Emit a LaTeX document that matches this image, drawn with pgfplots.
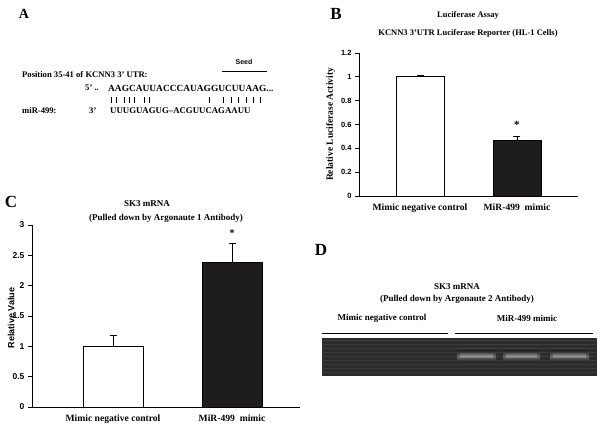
\documentclass[border=0pt]{standalone}
\usepackage{fontspec}
\setmainfont{Liberation Serif}
\setsansfont{Liberation Sans}
\usepackage{pgfplots}
\pgfplotsset{compat=1.18}

\newcommand{\fs}[1]{\fontsize{#1}{#1}\selectfont}
\definecolor{barblack}{HTML}{1E1C1D}
\definecolor{gelbg}{HTML}{2C2C2C}

\pgfplotsset{panel/.style={
  scale only axis, anchor=south west,
  axis x line*=bottom, axis y line*=left,
  axis line style={black,line width=0.8pt},
  ymin=0, xtick={1,2},
  xticklabels={Mimic negative control,MiR-499\ \ mimic},
  x tick label style={font=\rmfamily\bfseries\fs{9.6}},
  major x tick style={draw=none},
  tick align=outside, major tick length=4pt,
  major y tick style={black,line width=0.8pt},
  /pgf/number format/assume math mode=true,
  clip=false},
  ebar/.style={error bars/.cd,y dir=plus,y explicit,
    error bar style={line width=0.9pt,black},
    error mark options={mark size=3.5pt,line width=0.9pt,black,rotate=90}},
  wbar/.style={ybar,bar shift=0pt,draw=black,line width=0.9pt,fill=white,ebar},
  kbar/.style={ybar,bar shift=0pt,draw=black,line width=0.9pt,fill=barblack,ebar}
}

\begin{document}
\begin{tikzpicture}
\begin{scope}[x=1pt,y=1pt]
\useasboundingbox (0,0) rectangle (603,428);
% panel letters
\node[font=\rmfamily\bfseries\fs{14}] at (24,414) {A};
\node[font=\rmfamily\bfseries\fs{17}] at (336,414) {B};
\node[font=\rmfamily\bfseries\fs{17}] at (11,226) {C};
\node[font=\rmfamily\bfseries\fs{17}] at (321,178) {D};

% panel A: seed alignment
\begin{scope}[every node/.style={inner sep=0pt,anchor=west,font=\rmfamily\bfseries\fs{8.6}}]
\node at (22,353) {Position 35-41 of KCNN3 3' UTR:};
\node at (85,340) {5' ..};
\node[font=\rmfamily\bfseries\fs{9.4}] at (108,340) {AAGCAUUACCCAUAGGUCUUAAG...};
\node at (22,317) {miR-499:};
\node at (89,317) {3'};
\node[font=\rmfamily\bfseries\fs{8.8}] at (110,317) {UUUGUAGUG--ACGUUCAGAAUU};
\end{scope}
\node[font=\sffamily\bfseries\fs{7}] at (244,366) {Seed};
\draw[line width=0.9pt] (222,357) -- (267,357);
\foreach \bx in {111,116,124,129,134,144,149,209,223,231,238,246,253,260}
  \draw[line width=0.5pt] (\bx,325) -- (\bx,331);

% panel B titles
\node[font=\rmfamily\bfseries\fs{8.5}] at (468,413) {Luciferase Assay};
\node[font=\rmfamily\bfseries\fs{8.5}] at (468,395) {KCNN3 3'UTR Luciferase Reporter (HL-1 Cells)};

% panel C titles
\node[font=\rmfamily\bfseries\fs{9}] at (147,224) {SK3 mRNA};
\node[font=\rmfamily\bfseries\fs{9}] at (166,210) {(Pulled down by Argonaute 1 Antibody)};

% panel D: gel
\node[font=\rmfamily\bfseries\fs{9}] at (457,141) {SK3 mRNA};
\node[font=\rmfamily\bfseries\fs{9}] at (457,129) {(Pulled down by Argonaute 2 Antibody)};
\node[font=\rmfamily\bfseries\fs{9}] at (382,110) {Mimic negative control};
\node[font=\rmfamily\bfseries\fs{9}] at (527,110) {MiR-499 mimic};
\draw[line width=0.8pt] (322,95) -- (448,95);
\draw[line width=0.8pt] (455,95) -- (593,95);
\fill[gelbg] (322,52) rectangle (597,90);
\foreach \sy in {56,60,64,68,72,76,80,84,88}
  \draw[black!72,line width=0.3pt,opacity=0.6] (323,\sy) -- (596,\sy);
\foreach \xa/\xb in {457/496,503/540,550/589}{
  \shade[top color=gelbg,bottom color=gelbg,middle color=black!58]
    (\xa,67) rectangle (\xb,77);
  \shade[top color=black!58,bottom color=black!58,middle color=black!42]
    (\xa+3,70) rectangle (\xb-3,74);
}
\end{scope}

% panel B
\begin{axis}[panel, at={(359pt,232pt)}, width=219pt, height=143pt,
  xmin=0.371, xmax=2.629, ymax=1.2, ytick={0,0.2,...,1.2}, bar width=48pt,
  y tick label style={font=\sffamily\bfseries\fs{7.5}},
  ylabel={Relative Luciferase Activity},
  ylabel style={font=\rmfamily\bfseries\fs{9.5},at={(axis description cs:-0.13,0.5)},anchor=center}]
\addplot[wbar] coordinates {(1,1.0) +- (0,0.015)};
\addplot[kbar] coordinates {(2,0.467) +- (0,0.03)};
\node[font=\rmfamily\bfseries\fs{11}] at (axis cs:2,0.6) {*};
\end{axis}

% panel C
\begin{axis}[panel, at={(32pt,21pt)}, width=268pt, height=182pt,
  xmin=0.319, xmax=2.571, ymax=3, ytick={0,0.5,...,3}, bar width=60pt,
  y tick label style={font=\sffamily\bfseries\fs{8.5}},
  ylabel={Relative Value},
  ylabel style={font=\sffamily\bfseries\fs{9},at={(axis description cs:-0.078,0.49)},anchor=center}]
\addplot[wbar] coordinates {(1,1.0) +- (0,0.18)};
\addplot[kbar] coordinates {(2,2.38) +- (0,0.31)};
\node[font=\rmfamily\bfseries\fs{10}] at (axis cs:2,2.86) {*};
\end{axis}
\end{tikzpicture}
\end{document}
